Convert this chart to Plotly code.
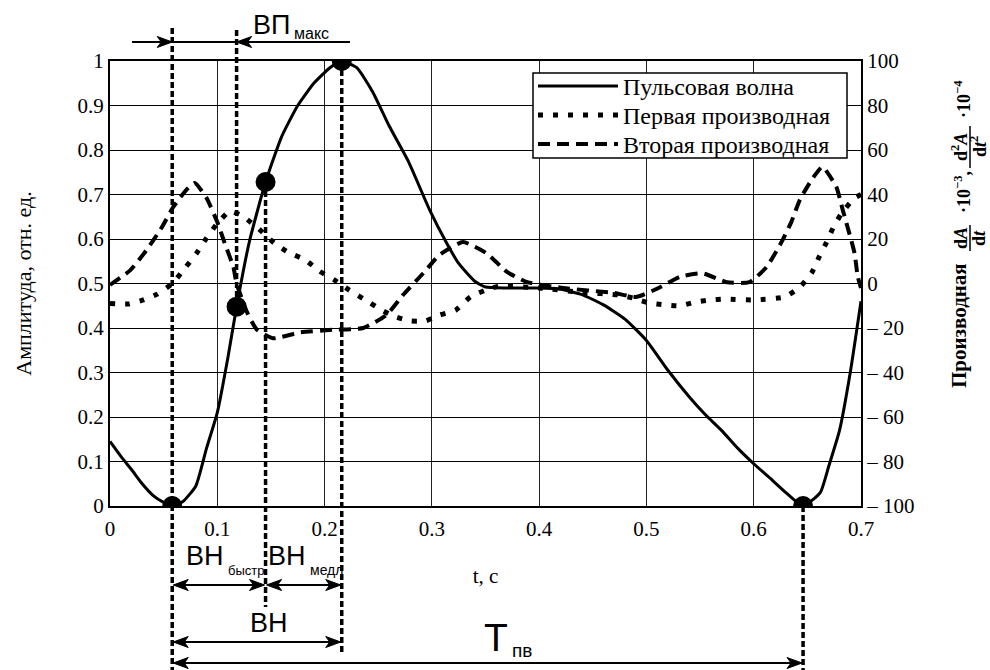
import plotly.graph_objects as go

# ---------------- data ----------------
t_pulse = [0.000, 0.010, 0.020, 0.030, 0.040, 0.050, 0.058, 0.068, 0.080, 0.090,
           0.100, 0.110, 0.118, 0.130, 0.145, 0.160, 0.175, 0.190, 0.205, 0.216,
           0.230, 0.245, 0.260, 0.278, 0.298, 0.314, 0.325, 0.340, 0.350, 0.370,
           0.400, 0.420, 0.440, 0.460, 0.480, 0.500, 0.520, 0.540, 0.555, 0.570,
           0.585, 0.600, 0.615, 0.630, 0.646, 0.662, 0.670, 0.680, 0.690, 0.700]
pulse = [0.145, 0.112, 0.082, 0.050, 0.024, 0.008, 0.000, 0.010, 0.045, 0.130,
         0.210, 0.335, 0.448, 0.595, 0.728, 0.830, 0.900, 0.950, 0.985, 1.000,
         0.985, 0.930, 0.855, 0.775, 0.665, 0.590, 0.545, 0.505, 0.492, 0.490,
         0.490, 0.487, 0.475, 0.452, 0.420, 0.372, 0.305, 0.245, 0.205, 0.170,
         0.130, 0.095, 0.063, 0.030, 0.000, 0.030, 0.090, 0.170, 0.300, 0.460]

t_d1 = [0.000, 0.017, 0.031, 0.044, 0.058, 0.070, 0.081, 0.090, 0.100, 0.112,
        0.125, 0.139, 0.153, 0.167, 0.182, 0.195, 0.209, 0.223, 0.238, 0.252,
        0.266, 0.280, 0.294, 0.307, 0.322, 0.336, 0.350, 0.363, 0.400, 0.440,
        0.475, 0.488, 0.503, 0.517, 0.531, 0.545, 0.559, 0.573, 0.601, 0.629,
        0.643, 0.654, 0.661, 0.668, 0.674, 0.682, 0.694, 0.700]
d1 = [-9.0, -9.2, -7.4, -4.8, 0.0, 7.0, 13.8, 20.4, 27.0, 32.6,
      29.8, 24.4, 18.2, 13.8, 10.6, 5.6, 1.6, -3.0, -7.4, -11.6,
      -15.0, -16.8, -16.8, -14.2, -12.0, -6.0, -3.0, -1.2, -2.0, -4.0,
      -5.2, -6.6, -8.8, -9.6, -10.0, -8.4, -7.4, -7.0, -7.4, -6.0,
      -1.6, 4.8, 12.0, 18.6, 25.0, 31.6, 38.4, 40.0]

t_d2 = [0.000, 0.019, 0.034, 0.048, 0.059, 0.071, 0.079, 0.090, 0.100, 0.107,
        0.115, 0.118, 0.128, 0.137, 0.152, 0.177, 0.208, 0.236, 0.258, 0.273,
        0.292, 0.307, 0.329, 0.351, 0.370, 0.389, 0.422, 0.469, 0.491, 0.513,
        0.531, 0.552, 0.575, 0.596, 0.612, 0.627, 0.635, 0.643, 0.654, 0.664,
        0.677, 0.683, 0.690, 0.694, 0.697, 0.700]
d2 = [-0.6, 6.0, 15.0, 25.0, 34.4, 42.0, 45.2, 38.4, 27.6, 18.0,
      7.4, 0.0, -13.2, -20.8, -24.6, -22.0, -20.8, -20.0, -14.0, -5.2,
      4.6, 12.8, 18.6, 13.6, 5.2, 0.6, -2.0, -4.2, -6.0, -1.6,
      3.0, 4.6, 0.6, 0.6, 7.4, 19.6, 27.6, 37.6, 46.6, 52.4,
      43.4, 33.0, 21.0, 13.6, 3.0, -2.0]

# characteristic points on the pulse wave
marker_t = [0.058, 0.118, 0.145, 0.216, 0.646]
marker_a = [0.000, 0.448, 0.728, 1.000, 0.000]

series_names = ["Пульсовая волна", "Первая производная", "Вторая производная"]
x_tick_vals = [0, 0.1, 0.2, 0.3, 0.4, 0.5, 0.6, 0.7]
left_tick_vals = [0, 0.1, 0.2, 0.3, 0.4, 0.5, 0.6, 0.7, 0.8, 0.9, 1.0]
right_tick_vals = [-100, -80, -60, -40, -20, 0, 20, 40, 60, 80, 100]
right_tick_text = ["– 100", "– 80", "– 60", "– 40", "– 20", "0", "20", "40", "60", "80", "100"]

# ---------------- layout helpers ----------------
W, H = 990, 670
X0, X1, Y0, Y1 = 110, 861, 61, 506
T_MAX = 0.7


def px_x(px):
    return (px - X0) / (X1 - X0)


def px_y(py):
    return (Y1 - py) / (Y1 - Y0)


def t_px(t):
    return X0 + t / T_MAX * (X1 - X0)


def a_py(a):
    return Y1 - a * (Y1 - Y0)


SERIF = "Liberation Serif"
SANS = "Liberation Sans"

fig = go.Figure()
fig.add_trace(go.Scatter(x=t_pulse, y=pulse, mode="lines", name=series_names[0], legend="legend",
                         line=dict(color="black", width=3, shape="spline", smoothing=0.5)))
fig.add_trace(go.Scatter(x=t_d1, y=d1, mode="lines", name=series_names[1], yaxis="y2", legend="legend2",
                         line=dict(color="black", width=5, dash="5px,10px", shape="spline", smoothing=0.5)))
fig.add_trace(go.Scatter(x=t_d2, y=d2, mode="lines", name=series_names[2], yaxis="y2", legend="legend3",
                         line=dict(color="black", width=4, dash="12px,7px", shape="spline", smoothing=0.5)))
fig.add_trace(go.Scatter(x=marker_t, y=marker_a, mode="markers", showlegend=False,
                         marker=dict(color="black", size=20), hoverinfo="skip"))

shapes = []
annotations = []

# legend frame (opaque, drawn under the legend entries)
shapes.append(dict(type="rect", xref="paper", yref="paper",
                   x0=px_x(533), x1=px_x(847), y0=px_y(73), y1=px_y(158),
                   fillcolor="white", line=dict(color="black", width=1.5), layer="above"))

# vertical dashed guide lines (t, top px, bottom px)
guides = [
    (marker_t[0], 28, 670),
    (marker_t[1], 30, a_py(marker_a[1])),
    (marker_t[2], a_py(marker_a[2]), 607),
    (marker_t[3], a_py(marker_a[3]), 653),
    (marker_t[4], a_py(marker_a[4]), 670),
]
for tt, ytop, ybot in guides:
    shapes.append(dict(type="line", xref="x", yref="paper", x0=tt, x1=tt,
                       y0=px_y(ytop), y1=px_y(ybot),
                       line=dict(color="black", width=3.5, dash="6px,3px"), layer="above"))


def hline(px0, px1, py):
    shapes.append(dict(type="line", xref="paper", yref="paper",
                       x0=px_x(px0), x1=px_x(px1), y0=px_y(py), y1=px_y(py),
                       line=dict(color="black", width=2)))


def head(px_tip, py, d):
    # stealth arrowhead; d=+1 points right, d=-1 points left
    L, HW, N = 15, 5.5, 11
    pts = [(px_tip, py), (px_tip - d * L, py - HW), (px_tip - d * N, py), (px_tip - d * L, py + HW)]
    path = "M " + " L ".join(f"{px_x(x):.5f},{px_y(y):.5f}" for x, y in pts) + " Z"
    shapes.append(dict(type="path", xref="paper", yref="paper", path=path,
                       fillcolor="black", line=dict(color="black", width=1)))


def double_arrow(t_a, t_b, py, gap=0):
    xa, xb = t_px(t_a) + gap, t_px(t_b) - gap
    hline(xa + 8, xb - 8, py)
    head(xa, py, -1)
    head(xb, py, +1)


# ВП макс
hline(132, 350, 42)
head(t_px(marker_t[0]), 42, +1)
head(t_px(marker_t[1]), 42, -1)
# ВН быстр, ВН медл, ВН, Т пв
double_arrow(marker_t[0], marker_t[2], 585, gap=1)
double_arrow(marker_t[2], marker_t[3], 585, gap=1)
double_arrow(marker_t[0], marker_t[3], 642, gap=1)
double_arrow(marker_t[0], marker_t[4], 663, gap=1)


def label(text, cx, cy, size, font=SANS, angle=0, bold=False, xanchor="center"):
    if bold:
        text = "<b>" + text + "</b>"
    return dict(text=text, x=px_x(cx), y=px_y(cy), xref="paper", yref="paper",
                showarrow=False, xanchor=xanchor, yanchor="middle", textangle=angle,
                font=dict(family=font, size=size, color="black"))


annotations += [
    label("ВП", 292, 25, 27, xanchor="right"),
    label("макс", 292, 34, 16, xanchor="left"),
    label("ВН", 226, 556, 27, xanchor="right"),
    label("быстр", 226, 570, 13, xanchor="left"),
    label("ВН", 308, 556, 27, xanchor="right"),
    label("медл", 308, 570, 14, xanchor="left"),
    label("ВН", 269, 623, 27),
    label("Т", 510, 637, 39, xanchor="right"),
    label("пв", 510, 650, 19, xanchor="left"),
]

# right axis title built from pieces (fractions)
annotations += [
    label("Производная", 959, 326, 21, font=SERIF, angle=-90, bold=True),
    label("d<i>A</i>", 961, 238, 18, font=SERIF, angle=-90, bold=True),
    label("d<i>t</i>", 979, 238, 18, font=SERIF, angle=-90, bold=True),
    label("·10<sup>−3</sup>,", 962, 192, 18, font=SERIF, angle=-90, bold=True),
    label("d<sup>2</sup><i>A</i>", 959, 147, 18, font=SERIF, angle=-90, bold=True),
    label("d<i>t</i><sup>2</sup>", 978, 146, 18, font=SERIF, angle=-90, bold=True),
    label("·10<sup>−4</sup>", 962, 99, 18, font=SERIF, angle=-90, bold=True),
]
shapes.append(dict(type="line", xref="paper", yref="paper", x0=px_x(970), x1=px_x(970),
                   y0=px_y(225), y1=px_y(251), line=dict(color="black", width=1.5)))
shapes.append(dict(type="line", xref="paper", yref="paper", x0=px_x(970), x1=px_x(970),
                   y0=px_y(126), y1=px_y(168), line=dict(color="black", width=1.5)))

tick_font = dict(family=SERIF, size=21, color="black")
legend_font = dict(family=SERIF, size=24, color="black")


def legend_box(py_top):
    return dict(x=px_x(533), y=px_y(py_top), xanchor="left", yanchor="top",
                bgcolor="rgba(0,0,0,0)", borderwidth=0, font=legend_font,
                itemwidth=80, tracegroupgap=0)


fig.update_layout(
    width=W, height=H,
    margin=dict(l=X0, r=W - X1, t=Y0, b=H - Y1),
    paper_bgcolor="white", plot_bgcolor="white",
    showlegend=True,
    legend=legend_box(64),
    legend2=legend_box(93),
    legend3=legend_box(122),
    xaxis=dict(range=[0, T_MAX], tickvals=x_tick_vals, showgrid=True,
               gridcolor="#222", gridwidth=1.2, zeroline=False,
               showline=True, linecolor="black", linewidth=2, mirror=True,
               ticks="", tickfont=tick_font, ticklabelstandoff=3,
               title=dict(text="t, c", font=dict(family=SERIF, size=21, color="black"), standoff=28)),
    yaxis=dict(range=[0, 1], tickvals=left_tick_vals, showgrid=True,
               gridcolor="black", gridwidth=1.2, zeroline=False,
               showline=True, linecolor="black", linewidth=2, mirror=True,
               ticks="", tickfont=tick_font, ticklabelstandoff=0,
               title=dict(text="Амплитуда, отн. ед.", font=dict(family=SERIF, size=22, color="black"),
                          standoff=40)),
    yaxis2=dict(range=[-100, 100], tickvals=right_tick_vals, ticktext=right_tick_text,
                overlaying="y", side="right", showgrid=False, zeroline=False,
                showline=True, linecolor="black", linewidth=2,
                ticks="", ticklabelstandoff=0, tickfont=tick_font),
    shapes=shapes,
    annotations=annotations,
)

fig.write_html("out.html", config={"displayModeBar": False},
               post_script="document.body.style.margin='0px';")
